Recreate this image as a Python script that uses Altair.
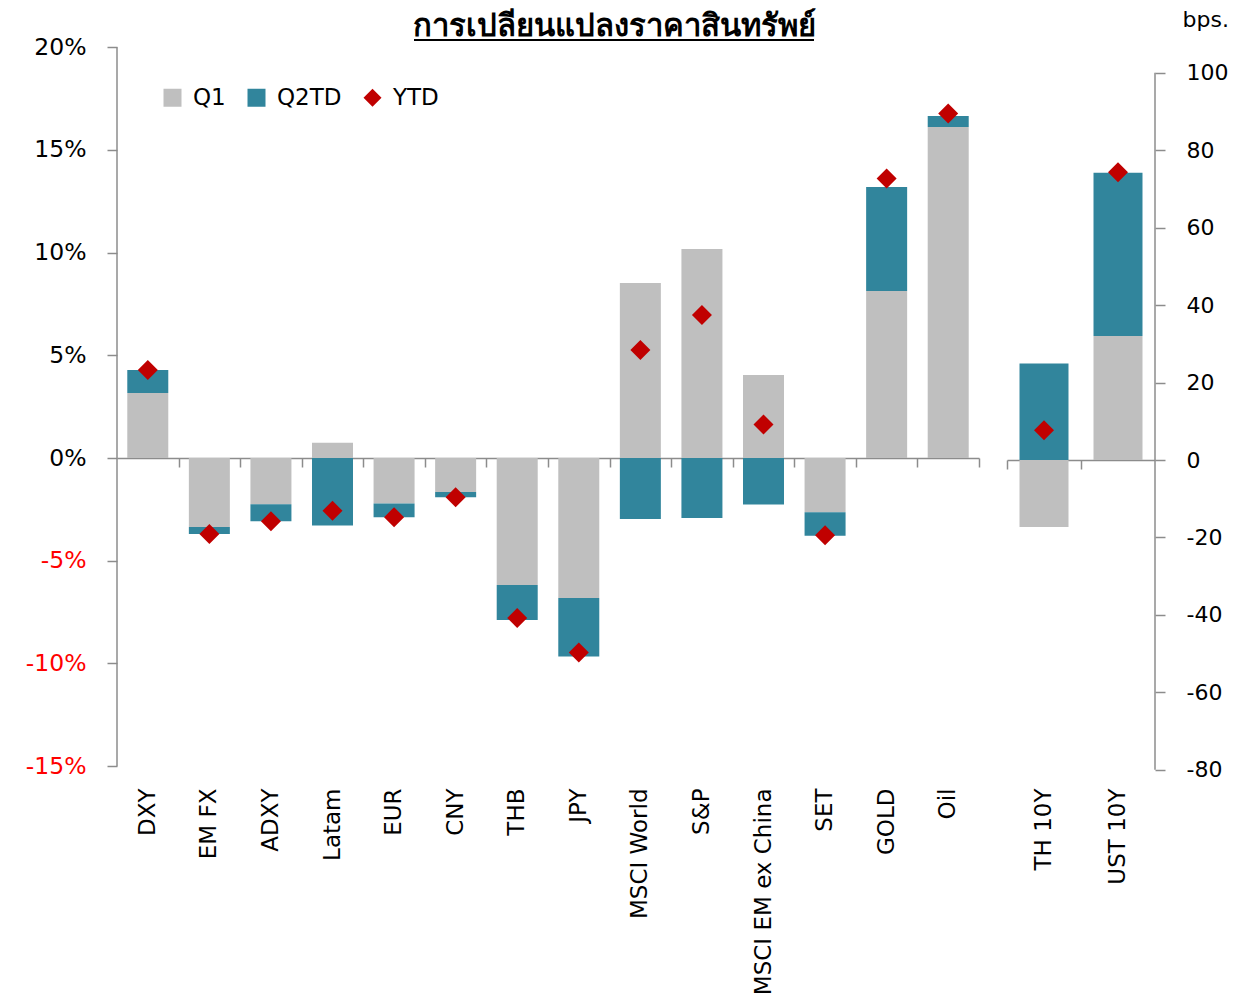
import altair as alt
import pandas as pd

# ---------------- data ----------------
cats_pct = ["DXY", "EM FX", "ADXY", "Latam", "EUR", "CNY", "THB", "JPY",
            "MSCI World", "S&P", "MSCI EM ex China", "SET", "GOLD", "Oil"]
q1_pct = [3.16, -3.36, -2.25, 0.74, -2.21, -1.65, -6.18, -6.81, 8.52, 10.17, 4.04, -2.64, 8.13, 16.11]
q2_pct = [1.12, -0.34, -0.83, -3.29, -0.67, -0.26, -1.71, -2.85, -2.97, -2.92, -2.26, -1.15, 5.06, 0.54]
ytd_pct = [4.28, -3.70, -3.08, -2.57, -2.88, -1.91, -7.79, -9.47, 5.26, 6.96, 1.63, -3.76, 13.60, 16.77]

cats_bps = ["TH 10Y", "UST 10Y"]
q1_bps = [-17.3, 32.0]
q2_bps = [24.9, 42.2]
ytd_bps = [7.7, 74.3]

title_text = "การเปลี่ยนแปลงราคาสินทรัพย์"
series = ["Q1", "Q2TD", "YTD"]
pct_ticks = [-15, -10, -5, 0, 5, 10, 15, 20]
bps_ticks = [-80, -60, -40, -20, 0, 20, 40, 60, 80, 100]

# ---------------- style ----------------
FONT = "DejaVu Sans"
GRAY = "#BFBFBF"
TEAL = "#31859C"
RED = "#C00000"
AXC = "#8C8C8C"

W1, W2, H = 862, 148, 778
ZERO_L = 456  # pixel of zero from plot top (left panel)
ZERO_R = 458  # pixel of zero from plot top (right panel)
PAD_L, PAD_R = 0.334, 0.338
HALF_GAP_L = W1 / len(cats_pct) * PAD_L / 2
HALF_GAP_R = W2 / len(cats_bps) * PAD_R / 2

def long_bars(cats, q1, q2):
    rows = []
    for c, a, b in zip(cats, q1, q2):
        rows.append({"cat": c, "series": "Q1", "value": a, "ord": 1})
        rows.append({"cat": c, "series": "Q2TD", "value": b, "ord": 2})
    return pd.DataFrame(rows)

color_scale = alt.Scale(domain=series, range=[GRAY, TEAL, RED])
shape_scale = alt.Scale(domain=series, range=["square", "square", "diamond"])

legend = alt.Legend(title=None, orient="none", legendX=44, legendY=84, direction="horizontal",
                    symbolSize=324, labelFont=FONT, labelFontSize=23, labelColor="black",
                    columnPadding=19, labelOffset=9, symbolStrokeWidth=0, symbolOpacity=1,
                    padding=0)

def x_label_axis():
    return alt.Axis(title=None, orient="bottom", labelAngle=-90, labelFont=FONT, labelFontSize=23,
                    labelColor="black", labelPadding=8, domain=False, ticks=False, tickSize=0,
                    labelLimit=400, grid=False)

def x_zero_axis(off, band_pos, tick_off):
    return alt.Axis(title=None, orient="bottom", labels=False, domain=True, domainColor=AXC,
                    domainWidth=1.5, ticks=True, tickColor=AXC, tickWidth=1.5, tickSize=9,
                    bandPosition=band_pos, tickOffset=tick_off, offset=off, grid=False)

def panel(cats, q1, q2, ytd, yscale, yaxis, width, zero_px, pad_in, show_legend, yline,
          band_pos, tick_off, extra=None):
    xs = alt.Scale(domain=cats, paddingInner=pad_in, paddingOuter=pad_in / 2)
    bars = alt.Chart(long_bars(cats, q1, q2)).mark_bar().encode(
        x=alt.X("cat:N", scale=xs, axis=x_label_axis()),
        y=alt.Y("value:Q", scale=yscale, stack="zero", axis=yaxis),
        color=alt.Color("series:N", scale=color_scale, legend=legend if show_legend else None),
        order=alt.Order("ord:Q"),
    )
    pts = alt.Chart(pd.DataFrame({"cat": cats, "series": "YTD", "value": ytd})).mark_point(
        filled=True, size=400, opacity=1, strokeWidth=0).encode(
        x=alt.X("cat:N", scale=xs, axis=None),
        y=alt.Y("value:Q", scale=yscale, axis=yaxis),
        color=alt.Color("series:N", scale=color_scale, legend=legend if show_legend else None),
        shape=alt.Shape("series:N", scale=shape_scale, legend=legend if show_legend else None),
    )
    zero = alt.Chart(pd.DataFrame({"cat": cats})).mark_rule(opacity=0).encode(
        x=alt.X("cat:N", scale=xs, axis=x_zero_axis(-(H - zero_px), band_pos, tick_off)),
    )
    lo, hi, xpos = yline
    axis_line = alt.Chart(pd.DataFrame({"lo": [lo], "hi": [hi]})).mark_rule(
        color=AXC, strokeWidth=1.5).encode(
        x=alt.value(xpos), y=alt.Y("lo:Q", scale=yscale, axis=yaxis), y2="hi:Q")
    layers = [bars, pts, zero, axis_line]
    if extra:
        layers += extra
    return alt.layer(*layers).resolve_axis(x="independent").properties(width=width, height=H)

yL = alt.Scale(domain=[-(H - ZERO_L) / 20.543, ZERO_L / 20.543], nice=False, zero=False)
yR = alt.Scale(domain=[-(H - ZERO_R) / 3.872, ZERO_R / 3.872], nice=False, zero=False)

yaxisL = alt.Axis(title=None, orient="left", values=pct_ticks, labelExpr="datum.value + '%'",
                  labelColor=alt.condition("datum.value < 0", alt.value("#FF0000"), alt.value("black")),
                  labelFont=FONT, labelFontSize=23.5, labelPadding=21, domain=False,
                  ticks=True, tickColor=AXC, tickWidth=1.5, tickSize=10, grid=False,
                  minExtent=109, maxExtent=109)
yaxisR = alt.Axis(title="bps.", orient="right", values=bps_ticks, labelExpr="'' + datum.value",
                  labelColor="black",
                  labelFont=FONT, labelFontSize=22, labelPadding=21, labelAlign="left", domain=False,
                  ticks=True, tickColor=AXC, tickWidth=1.5, tickSize=10, grid=False,
                  titleAngle=0, titleAlign="left", titleBaseline="top", titleX=27, titleY=7,
                  titleFont=FONT, titleFontSize=22, titleFontWeight="normal", titleColor="black")

title_mark = alt.Chart(pd.DataFrame({"t": [title_text]})).mark_text(
    fontSize=31, fontWeight="bold", align="center", baseline="top", color="black").encode(
    text="t:N", x=alt.value(497), y=alt.value(10))
underline = alt.Chart(pd.DataFrame({"a": [0]})).mark_rule(color="black", strokeWidth=2).encode(
    x=alt.value(297), x2=alt.value(697), y=alt.value(38))

left = panel(cats_pct, q1_pct, q2_pct, ytd_pct, yL, yaxisL, W1, ZERO_L, PAD_L, True,
             (-15, 20, 0), 1, HALF_GAP_L, extra=[title_mark, underline])
right = panel(cats_bps, q1_bps, q2_bps, ytd_bps, yR, yaxisR, W2, ZERO_R, PAD_R, False,
              (-80, 100, W2), 0, -HALF_GAP_R)

chart = alt.hconcat(left, right, spacing=26).resolve_scale(
    color="independent", shape="independent").resolve_legend(
    color="independent", shape="independent").properties(
    padding={"left": 0, "top": -6, "right": 5, "bottom": 0}).configure_view(stroke=None)

chart.save("out.html", embed_options={"renderer": "svg", "actions": False})
